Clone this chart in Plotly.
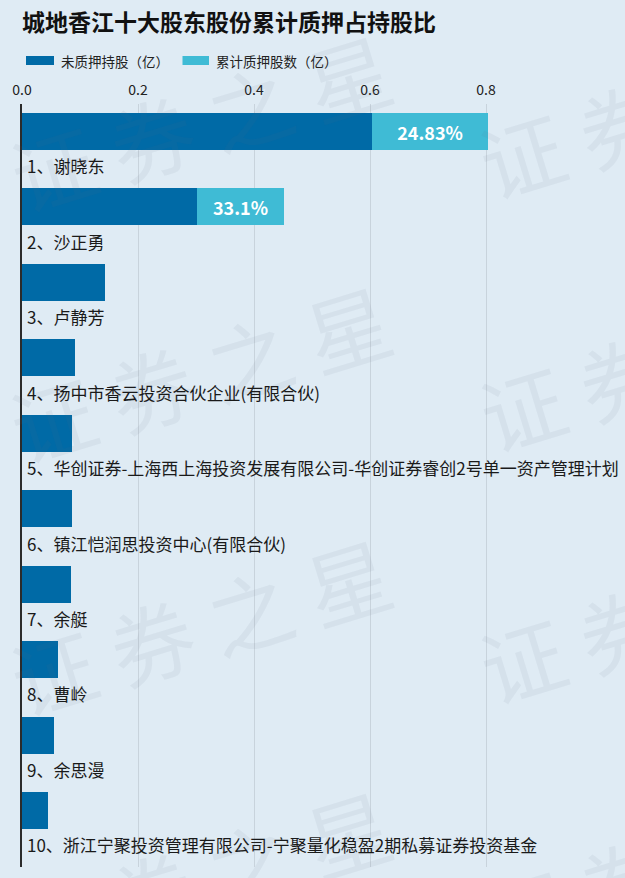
import plotly.graph_objects as go

# ---------------- data ----------------
holders = [
    "1、谢晓东",
    "2、沙正勇",
    "3、卢静芳",
    "4、扬中市香云投资合伙企业(有限合伙)",
    "5、华创证券-上海西上海投资发展有限公司-华创证券睿创2号单一资产管理计划",
    "6、镇江恺润思投资中心(有限合伙)",
    "7、余艇",
    "8、曹岭",
    "9、余思漫",
    "10、浙江宁聚投资管理有限公司-宁聚量化稳盈2期私募证券投资基金",
]
unpledged = [0.6040, 0.3022, 0.1430, 0.0914, 0.0862, 0.0860, 0.0845, 0.0620, 0.0548, 0.0445]
pledged = [0.1995, 0.1495, None, None, None, None, None, None, None, None]
pledge_pct_text = ["24.83%", "33.1%", "", "", "", "", "", "", "", ""]
x_tickvals = [0, 0.2, 0.4, 0.6, 0.8]
x_ticktext = ["0.0", "0.2", "0.4", "0.6", "0.8"]
legend_names = ["未质押持股（亿）", "累计质押股数（亿）"]
title_text = "城地香江十大股东股份累计质押占持股比"
watermark = "证 券 之 星"

# ---------------- style ----------------
W, H = 625, 878
L, R, T, B = 22, 23, 104, 11
PW, PH = W - L - R, H - T - B
BG = "#dfebf4"
DARK = "#006aa6"
LIGHT = "#3fbbd5"
FONT = "Microsoft YaHei, Noto Sans CJK SC, sans-serif"


def px(x):
    return (x - L) / PW


def py(y):
    return (H - B - y) / PH


idx = list(range(len(holders)))

fig = go.Figure()
fig.add_bar(
    y=idx, x=unpledged, orientation="h", marker=dict(color=DARK, line=dict(width=0)),
    width=0.49, name=legend_names[0], hoverinfo="skip",
)
fig.add_bar(
    y=idx, x=pledged, orientation="h", marker=dict(color=LIGHT, line=dict(width=0)),
    width=0.49, name=legend_names[1], text=pledge_pct_text, textposition="inside",
    insidetextanchor="middle", textangle=0,
    textfont=dict(color="white", size=18, family=FONT, weight="bold"),
    hoverinfo="skip",
)

annotations = []
# watermark tiles
wm_centers = [(200, 120), (200, 372), (200, 624), (200, 876),
              (669, 108), (669, 360), (669, 612), (669, 864)]
for cx, cy in wm_centers:
    annotations.append(dict(
        x=px(cx), y=py(cy), xref="paper", yref="paper", text=watermark,
        showarrow=False, textangle=-17, xanchor="center", yanchor="middle",
        font=dict(size=84, family=FONT, color="rgba(90,110,130,0.075)"),
    ))

# category labels under each bar
for i, name in enumerate(holders):
    annotations.append(dict(
        x=0, y=i + 0.455, xref="x", yref="y", text=name, showarrow=False,
        xanchor="left", yanchor="middle", xshift=3,
        font=dict(size=17, family=FONT, color="#1a1a1a"),
    ))

# custom legend
shapes = []
leg_items = [(26, 54, 59, DARK, legend_names[0]), (182.5, 209, 214, LIGHT, legend_names[1])]
for x0, x1, tx, col, nm in leg_items:
    shapes.append(dict(type="rect", xref="paper", yref="paper",
                       x0=px(x0), x1=px(x1), y0=py(65), y1=py(56),
                       fillcolor=col, line=dict(width=0)))
    annotations.append(dict(
        x=px(tx), y=py(61), xref="paper", yref="paper", text=nm, showarrow=False,
        xanchor="left", yanchor="middle", font=dict(size=13.5, family=FONT, color="#222"),
    ))

fig.update_layout(
    width=W, height=H,
    margin=dict(l=L, r=R, t=T, b=B, pad=0),
    paper_bgcolor=BG, plot_bgcolor=BG,
    barmode="stack", bargap=0, showlegend=False,
    title=dict(text=title_text, x=L / W, xanchor="left", xref="container",
               y=1 - 23 / H, yanchor="middle", yref="container",
               font=dict(size=23, family=FONT, color="#111", weight="bold")),
    xaxis=dict(side="top", range=[0, 1.0], tickvals=x_tickvals, ticktext=x_ticktext,
               showgrid=True, gridcolor="#c8d3dc", gridwidth=1, zeroline=False,
               showline=False, ticks="", ticklabelstandoff=5,
               tickfont=dict(size=14, family=FONT, color="#222"),
               fixedrange=True),
    yaxis=dict(range=[9.749, -0.3645], showticklabels=False, showgrid=False,
               zeroline=False, showline=True, linecolor="#2b2b2b", linewidth=2,
               ticks="", fixedrange=True),
    annotations=annotations, shapes=shapes,
    font=dict(family=FONT),
)

fig.write_html(
    "out.html",
    config={"displayModeBar": False},
    post_script="document.body.style.margin='0px';document.body.style.background='" + BG + "';",
)
